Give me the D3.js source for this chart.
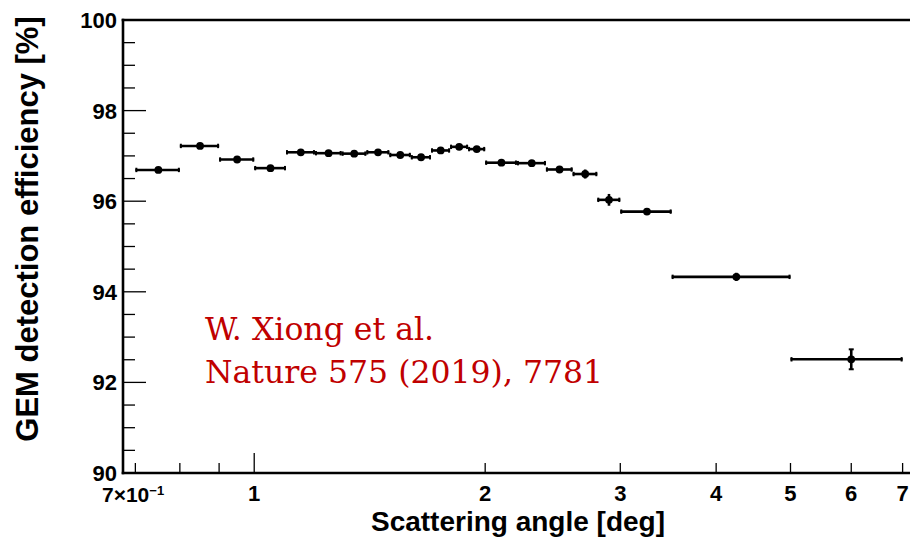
<!DOCTYPE html>
<html>
<head>
<meta charset="utf-8">
<script src="https://cdn.jsdelivr.net/npm/d3@7"></script>
<style>
  html, body { margin: 0; padding: 0; background: #fff; }
  svg { display: block; }
  .lab { font-family: "Liberation Sans", Arial, Helvetica, sans-serif; font-weight: bold; fill: #000; }
  .note { font-family: "DejaVu Serif", "Liberation Serif", serif; fill: #c00000; }
</style>
</head>
<body>
<svg id="chart" width="910" height="537"></svg>
<script>
// Scattering-angle bins (deg)
const binLow  = [0.7, 0.8, 0.9, 1.0, 1.1, 1.2, 1.3, 1.4, 1.5, 1.6, 1.7, 1.8, 1.9, 2.0, 2.2, 2.4, 2.6, 2.8, 3.0, 3.5, 5.0];
const binHigh = [0.8, 0.9, 1.0, 1.1, 1.2, 1.3, 1.4, 1.5, 1.6, 1.7, 1.8, 1.9, 2.0, 2.2, 2.4, 2.6, 2.8, 3.0, 3.5, 5.0, 7.0];
// GEM detection efficiency (%) and its uncertainty
const efficiency = [96.69, 97.22, 96.92, 96.73, 97.08, 97.06, 97.05, 97.08, 97.02, 96.97, 97.12, 97.20, 97.15,
                    96.85, 96.84, 96.70, 96.60, 96.03, 95.77, 94.33, 92.51];
const effErr     = [0.03, 0.03, 0.03, 0.03, 0.03, 0.03, 0.03, 0.03, 0.03, 0.03, 0.03, 0.03, 0.03,
                    0.03, 0.04, 0.05, 0.10, 0.13, 0.04, 0.09, 0.22];
// Axis tick values and labels
const yMajor = [90, 92, 94, 96, 98, 100];
const yMinor = [90.5, 91, 91.5, 92.5, 93, 93.5, 94.5, 95, 95.5, 96.5, 97, 97.5, 98.5, 99, 99.5];
const xTickVals   = [0.7, 0.8, 0.9, 1, 2, 3, 4, 5, 6, 7];
const xTickLong   = [1];
const xLabelVals  = [1, 2, 3, 4, 5, 6, 7];
const xLabelTexts = ["1", "2", "3", "4", "5", "6", "7"];
const noteLines = ["W. Xiong et al.", "Nature 575 (2019), 7781"];

const svg = d3.select("#chart");
const padL = 123, padT = 20, padB = 473, padR = 912;

const x = d3.scaleLog().domain([0.6745, 7.2]).range([padL, padR]);
const y = d3.scaleLinear().domain([90, 100]).range([padB, padT]);

// frame (left, top, bottom)
const frame = svg.append("g").attr("stroke", "#000").attr("stroke-width", 2.6).attr("fill", "none");
frame.append("line").attr("x1", padL).attr("x2", padL).attr("y1", padT - 1.3).attr("y2", padB + 1.3);
frame.append("line").attr("x1", padL - 1.3).attr("x2", 910).attr("y1", padT).attr("y2", padT);
frame.append("line").attr("x1", padL - 1.3).attr("x2", 910).attr("y1", padB).attr("y2", padB);

// y ticks
const yt = svg.append("g").attr("stroke", "#000").attr("stroke-width", 1.3);
yt.selectAll(".ymaj").data(yMajor.filter(v => v > 90 && v < 100)).join("line").attr("class", "ymaj")
  .attr("x1", padL).attr("x2", padL + 23).attr("y1", d => y(d)).attr("y2", d => y(d));
yt.selectAll(".ymin").data(yMinor).join("line").attr("class", "ymin")
  .attr("x1", padL).attr("x2", padL + 12).attr("y1", d => y(d)).attr("y2", d => y(d));

svg.selectAll(".ylab").data(yMajor).join("text")
  .attr("class", "lab ylab").attr("x", 117).attr("y", d => y(d)).attr("dy", "0.36em")
  .attr("text-anchor", "end").attr("font-size", 22).text(d => d);

// x ticks
const xt = svg.append("g").attr("stroke", "#000").attr("stroke-width", 1.3);
xt.selectAll("line").data(xTickVals).join("line")
  .attr("x1", d => x(d)).attr("x2", d => x(d))
  .attr("y1", padB).attr("y2", d => padB - (xTickLong.includes(d) ? 20 : 10));

svg.selectAll(".xlab").data(xLabelVals).join("text")
  .attr("class", "lab xlab").attr("x", d => x(d)).attr("y", 501)
  .attr("text-anchor", "middle").attr("font-size", 22)
  .text((d, i) => xLabelTexts[i]);

// first label written as 7×10^-1
const first = svg.append("text").attr("class", "lab").attr("x", 102).attr("y", 502).attr("font-size", 21);
first.append("tspan").text("7\u00d710");
first.append("tspan").attr("font-size", 13).attr("dy", -7).text("\u22121");

// axis titles
svg.append("text").attr("class", "lab").attr("x", 518).attr("y", 531)
  .attr("text-anchor", "middle").attr("font-size", 28).text("Scattering angle [deg]");
svg.append("text").attr("class", "lab")
  .attr("transform", "translate(38,229) rotate(-90)")
  .attr("text-anchor", "middle").attr("font-size", 31).text("GEM detection efficiency [%]");

// data: horizontal bin-width bars, vertical error bars, markers
const pts = efficiency.map((v, i) => ({ lo: binLow[i], hi: binHigh[i], c: (binLow[i] + binHigh[i]) / 2, v, e: effErr[i] }));
const g = svg.append("g");
g.selectAll(".hbar").data(pts).join("line").attr("class", "hbar")
  .attr("x1", d => x(d.lo)).attr("x2", d => x(d.hi))
  .attr("y1", d => y(d.v)).attr("y2", d => y(d.v))
  .attr("stroke", "#000").attr("stroke-width", 2.6);
g.selectAll(".capL").data(pts).join("line").attr("class", "capL")
  .attr("x1", d => x(d.lo) + 1).attr("x2", d => x(d.lo) + 1)
  .attr("y1", d => y(d.v) - 2.2).attr("y2", d => y(d.v) + 2.2)
  .attr("stroke", "#000").attr("stroke-width", 2);
g.selectAll(".capR").data(pts).join("line").attr("class", "capR")
  .attr("x1", d => x(d.hi) - 1).attr("x2", d => x(d.hi) - 1)
  .attr("y1", d => y(d.v) - 2.2).attr("y2", d => y(d.v) + 2.2)
  .attr("stroke", "#000").attr("stroke-width", 2);
g.selectAll(".vbar").data(pts).join("line").attr("class", "vbar")
  .attr("x1", d => x(d.c)).attr("x2", d => x(d.c))
  .attr("y1", d => y(d.v + d.e)).attr("y2", d => y(d.v - d.e))
  .attr("stroke", "#000").attr("stroke-width", 2.6);
const capped = pts.filter(d => d.e > 0.15);
g.selectAll(".vcapT").data(capped).join("line").attr("class", "vcapT")
  .attr("x1", d => x(d.c) - 2.5).attr("x2", d => x(d.c) + 2.5)
  .attr("y1", d => y(d.v + d.e)).attr("y2", d => y(d.v + d.e))
  .attr("stroke", "#000").attr("stroke-width", 2);
g.selectAll(".vcapB").data(capped).join("line").attr("class", "vcapB")
  .attr("x1", d => x(d.c) - 2.5).attr("x2", d => x(d.c) + 2.5)
  .attr("y1", d => y(d.v - d.e)).attr("y2", d => y(d.v - d.e))
  .attr("stroke", "#000").attr("stroke-width", 2);
g.selectAll("circle").data(pts).join("circle")
  .attr("cx", d => x(d.c)).attr("cy", d => y(d.v)).attr("r", 3.9).attr("fill", "#000");

// citation
svg.selectAll(".note").data(noteLines).join("text")
  .attr("class", "note").attr("x", 205).attr("y", (d, i) => 340 + i * 43)
  .attr("font-size", 31.5).text(d => d);
</script>
</body>
</html>
